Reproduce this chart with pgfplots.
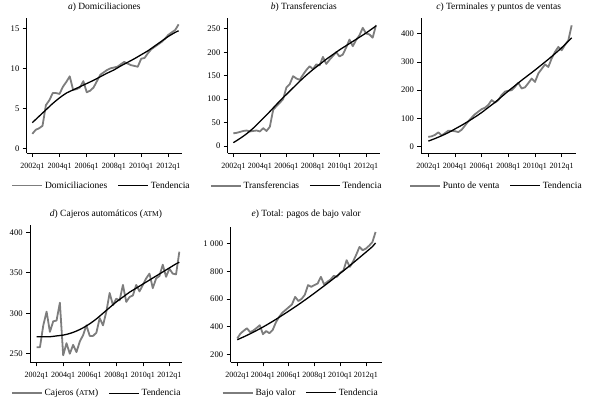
\documentclass[border=0pt]{standalone}
\usepackage{pgfplots}
\pgfplotsset{compat=1.18}
\usepackage{pgfplotstable}
\usepackage{fontspec}
\setmainfont{Liberation Serif}
\newcommand{\fs}{\fontsize{9.5}{11}\selectfont}
\newcommand{\ft}{\fontsize{8.6}{10}\selectfont}
\newcommand{\fx}{\fontsize{8}{10}\selectfont}
\definecolor{sgray}{RGB}{125,125,125}

\pgfplotstableread{
i v
0 1.8
1 2.3
2 2.5
3 2.8
4 5.4
5 6.0
6 6.9
7 6.9
8 6.8
9 7.7
10 8.3
11 9.0
12 7.3
13 7.4
14 7.6
15 8.4
16 7.0
17 7.2
18 7.6
19 8.4
20 9.2
21 9.5
22 9.8
23 10.0
24 10.1
25 10.2
26 10.5
27 10.8
28 10.6
29 10.4
30 10.3
31 10.2
32 11.2
33 11.3
34 11.9
35 12.4
36 12.7
37 13.0
38 13.3
39 13.7
40 14.2
41 14.5
42 14.8
43 15.5
}\dataA
\pgfplotstableread{
i v
0 3.2
2 4.0
4 4.8
6 5.6
8 6.3
10 6.9
12 7.3
14 7.7
16 8.1
18 8.5
20 8.95
22 9.4
24 9.8
26 10.3
28 10.75
30 11.2
32 11.7
34 12.2
36 12.8
38 13.4
40 14.0
42 14.5
43 14.7
}\trendA

\pgfplotstableread{
i v
0 27
1 28
2 30
3 32
4 33
5 31
6 32
7 33
8 31
9 38
10 32
11 41
12 77
13 85
14 92
15 100
16 125
17 132
18 149
19 144
20 141
21 152
22 162
23 170
24 164
25 174
26 172
27 190
28 175
29 184
30 192
31 200
32 191
33 195
34 210
35 227
36 213
37 226
38 236
39 252
40 240
41 238
42 231
43 258
}\dataB
\pgfplotstableread{
i v
0 7
2 16
4 26
6 38
8 52
10 66
12 81
14 96
16 110
18 124
20 138
22 151
24 163
26 174
28 185
30 195
32 205
34 214
36 223
38 232
40 241
42 251
43 256
}\trendB

\pgfplotstableread{
i v
0 35
1 37
2 42
3 51
4 40
5 48
6 57
7 56
8 55
9 52
10 60
11 75
12 90
13 103
14 115
15 124
16 133
17 138
18 148
19 165
20 156
21 165
22 183
23 195
24 198
25 200
26 212
27 226
28 206
29 210
30 225
31 241
32 229
33 259
34 275
35 291
36 282
37 312
38 335
39 353
40 341
41 360
42 376
43 429
}\dataC
\pgfplotstableread{
i v
0 20
2 29
4 39
6 50
8 63
10 76
12 90
14 105
16 121
18 139
20 157
22 177
24 197
26 216
28 235
30 253
32 271
34 290
36 309
38 329
40 350
42 373
43 385
}\trendC

\pgfplotstableread{
i v
0 258
1 258
2 285
3 302
4 277
5 290
6 291
7 313
8 248
9 263
10 250
11 261
12 252
13 265
14 273
15 285
16 272
17 272
18 276
19 294
20 285
21 302
22 325
23 310
24 318
25 316
26 335
27 314
28 320
29 322
30 335
31 327
32 335
33 343
34 349
35 331
36 343
37 346
38 360
39 345
40 355
41 349
42 348
43 376
}\dataD
\pgfplotstableread{
i v
0 271
2 271
4 271
6 272
8 273
10 275
12 278
14 282
16 287
18 293
20 300
22 307
24 314
26 320
28 326
30 331
32 336
34 341
36 346
38 351
40 356
42 361
43 363
}\trendD

\pgfplotstableread{
i v
0 315
1 350
2 370
3 388
4 360
5 372
6 390
7 410
8 345
9 368
10 352
11 375
12 430
13 470
14 500
15 520
16 540
17 560
18 615
19 585
20 600
21 630
22 700
23 688
24 700
25 712
26 760
27 705
28 724
29 740
30 767
31 760
32 790
33 805
34 880
35 832
36 870
37 920
38 976
39 952
40 964
41 985
42 1010
43 1084
}\dataE
\pgfplotstableread{
i v
0 305
2 326
4 348
6 372
8 397
10 424
12 452
14 482
16 512
18 543
20 575
22 608
24 642
26 677
28 712
30 748
32 785
34 822
36 860
38 899
40 938
42 978
43 1005
}\trendE

\pgfplotsset{
  panel/.style={
    scale only axis,
    anchor=south west,
    axis x line*=bottom, axis y line*=left,
    axis line style={black, line width=0.6pt},
    tick align=outside,
    major tick length=4pt,
    tick style={black, line width=0.6pt},
    xtick={0,8,16,24,32,40},
    xticklabels={2002q1,2004q1,2006q1,2008q1,2010q1,2012q1},
    minor tick num=0,
    /pgf/number format/assume math mode=true,
    yticklabel style={font=\ft},
    xticklabel style={font=\fx, yshift=-3pt},
    title style={font=\fs, at={(0.5,1)}, anchor=center, yshift=5pt},
    legend style={font=\fs, draw=none, fill=none, legend columns=2, anchor=center,
      /tikz/every even column/.append style={column sep=8pt}},
    legend cell align=left,
    legend image code/.code={\draw[##1] (0pt,0pt) -- (30pt,0pt);},
    clip=false,
  },
  ser/.style={sgray, line width=1.8pt, line join=round,
    legend image post style={line width=1.7pt}},
  tre/.style={black, line width=1.3pt, smooth,
    legend image post style={line width=1.4pt}},
}

\begin{document}
\fs
\begin{tikzpicture}
\path[use as bounding box] (0,0) rectangle (589pt,-408pt);

\begin{axis}[panel, at={(26.7pt,-153pt)}, width=155.3pt, height=135pt,
  xmin=-1.65, xmax=44, ymin=-0.6, ymax=16.3, ytick={0,5,10,15},
  title={\textit{a}) Domiciliaciones},
  legend style={at={(0.482,0)}, yshift=-32.5pt}]
\addplot[ser] table[x=i,y=v] {\dataA};
\addlegendentry{Domiciliaciones}
\addplot[tre] table[x=i,y=v] {\trendA};
\addlegendentry{Tendencia}
\end{axis}

\begin{axis}[panel, at={(227.7pt,-153pt)}, width=152.3pt, height=135pt,
  xmin=-1.7, xmax=44.2, ymin=-15, ymax=273, ytick={0,50,100,150,200,250},
  title={\textit{b}) Transferencias},
  legend style={at={(0.453,0)}, yshift=-32.7pt}]
\addplot[ser] table[x=i,y=v] {\dataB};
\addlegendentry{Transferencias}
\addplot[tre] table[x=i,y=v] {\trendB};
\addlegendentry{Tendencia}
\end{axis}

\begin{axis}[panel, at={(421.3pt,-153pt)}, width=154.7pt, height=135pt,
  xmin=-2.1, xmax=44.3, ymin=-22, ymax=455, ytick={0,100,200,300,400},
  title={\textit{c}) Terminales y puntos de ventas},
  legend style={at={(0.486,0)}, yshift=-32.7pt}]
\addplot[ser] table[x=i,y=v] {\dataC};
\addlegendentry{Punto de venta}
\addplot[tre] table[x=i,y=v] {\trendC};
\addlegendentry{Tendencia}
\end{axis}

\begin{axis}[panel, at={(30pt,-362.3pt)}, width=152pt, height=137.3pt,
  xmin=-2, xmax=43.8, ymin=239.4, ymax=409, ytick={250,300,350,400},
  title={\textit{d}) Cajeros automáticos ({\fontsize{7.5}{9}\selectfont ATM})},
  legend style={at={(0.439,0)}, yshift=-31pt}]
\addplot[ser] table[x=i,y=v] {\dataD};
\addlegendentry{Cajeros ({\fontsize{7.5}{9}\selectfont ATM})}
\addplot[tre] table[x=i,y=v] {\trendD};
\addlegendentry{Tendencia}
\end{axis}

\begin{axis}[panel, at={(230.5pt,-362.3pt)}, width=151.5pt, height=135.3pt,
  xmin=-2.1, xmax=45, ymin=142, ymax=1120, ytick={200,400,600,800,1000},
  yticklabels={200,400,600,800,1\hspace{2.5pt}000},
  title={\textit{e}) Total: pagos de bajo valor},
  title style={yshift=1.5pt},
  legend style={at={(0.464,0)}, yshift=-30.4pt}]
\addplot[ser] table[x=i,y=v] {\dataE};
\addlegendentry{Bajo valor}
\addplot[tre] table[x=i,y=v] {\trendE};
\addlegendentry{Tendencia}
\end{axis}
\end{tikzpicture}
\end{document}
